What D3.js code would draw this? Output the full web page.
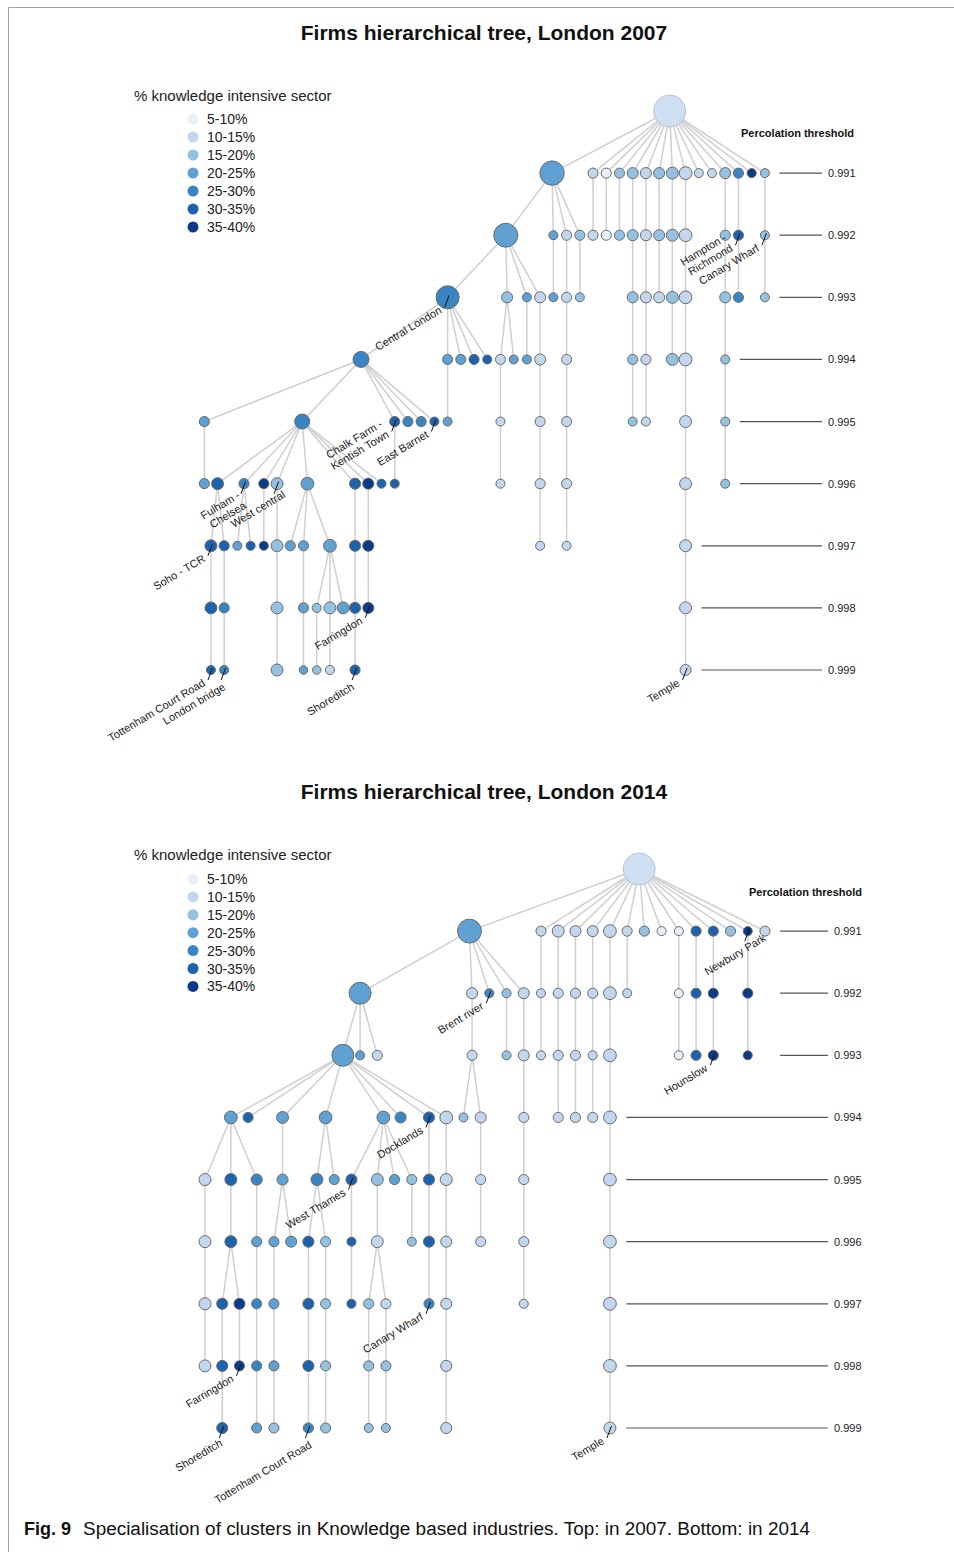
<!DOCTYPE html>
<html><head><meta charset="utf-8">
<script src="https://cdn.jsdelivr.net/npm/d3@7"></script>
<style>body{margin:0;background:#fff}svg{display:block}</style>
</head><body>
<svg id="c" width="954" height="1552"></svg>
<script>
// ---------------- DATA ----------------
const thresholds = [0.991, 0.992, 0.993, 0.994, 0.995, 0.996, 0.997, 0.998, 0.999];
const classLabels = ["5-10%", "10-15%", "15-20%", "20-25%", "25-30%", "30-35%", "35-40%"];
const classColors = ["#e7eff9", "#c2d7ee", "#93c1e1", "#5fa1d2", "#3985c3", "#1d62ad", "#0b3a86"];
const titles = ["Firms hierarchical tree, London 2007", "Firms hierarchical tree, London 2014"];
const legendTitle = "% knowledge intensive sector";
const thresholdTitle = "Percolation threshold";
const captionBold = "Fig. 9";
const captionText = "Specialisation of clusters in Knowledge based industries. Top: in 2007. Bottom: in 2014";

// nodes: [threshold, slot (ordinal position in tree row), parent slot, knowledge class 1-7, cluster size]
const nodes2007 = [
  [0.990, 35.8, null, 2, 100],
  [0.991, 26.9, 35.8, 4, 58], [0.991, 30, 35.8, 2, 10], [0.991, 31, 35.8, 1, 10], [0.991, 32, 35.8, 3, 10],
  [0.991, 33, 35.8, 3, 12], [0.991, 34, 35.8, 2, 12], [0.991, 35, 35.8, 3, 12], [0.991, 36, 35.8, 3, 14],
  [0.991, 37, 35.8, 2, 16], [0.991, 38, 35.8, 2, 8], [0.991, 39, 35.8, 2, 8], [0.991, 40, 35.8, 3, 12],
  [0.991, 41, 35.8, 5, 10], [0.991, 42, 35.8, 7, 8], [0.991, 43, 35.8, 3, 8],
  [0.992, 23.4, 26.9, 4, 56], [0.992, 27, 26.9, 4, 8], [0.992, 28, 26.9, 2, 10], [0.992, 29, 26.9, 3, 10],
  [0.992, 30, 30, 2, 10], [0.992, 31, 31, 1, 10], [0.992, 32, 32, 3, 10], [0.992, 33, 33, 3, 12],
  [0.992, 34, 34, 2, 12], [0.992, 35, 35, 3, 12], [0.992, 36, 36, 3, 14], [0.992, 37, 37, 2, 16],
  [0.992, 40, 40, 3, 10], [0.992, 41, 41, 6, 10], [0.992, 43, 43, 3, 8],
  [0.993, 19, 23.4, 5, 52], [0.993, 23.5, 23.4, 3, 12], [0.993, 25, 23.4, 4, 8], [0.993, 26, 23.4, 2, 12],
  [0.993, 27, 27, 4, 8], [0.993, 28, 28, 2, 10], [0.993, 29, 29, 3, 8],
  [0.993, 33, 33, 3, 12], [0.993, 34, 34, 2, 12], [0.993, 35, 35, 2, 12], [0.993, 36, 36, 3, 14],
  [0.993, 37, 37, 2, 16], [0.993, 40, 40, 3, 12], [0.993, 41, 41, 5, 10], [0.993, 43, 43, 3, 8],
  [0.994, 12.45, 19, 5, 25], [0.994, 19, 19, 4, 10], [0.994, 20, 19, 4, 10], [0.994, 21, 19, 6, 10],
  [0.994, 22, 19, 6, 8], [0.994, 23, 23.5, 2, 10], [0.994, 24, 23.5, 4, 8], [0.994, 25, 25, 4, 8],
  [0.994, 26, 26, 2, 12], [0.994, 28, 28, 2, 10], [0.994, 33, 33, 3, 10], [0.994, 34, 34, 2, 10],
  [0.994, 36, 36, 3, 14], [0.994, 37, 37, 2, 16], [0.994, 40, 40, 3, 8],
  [0.995, 0.6, 12.45, 4, 10], [0.995, 8, 12.45, 5, 22], [0.995, 15, 12.45, 6, 10], [0.995, 16, 12.45, 5, 10],
  [0.995, 17, 12.45, 5, 10], [0.995, 18, 12.45, 6, 8], [0.995, 19, 19, 4, 8], [0.995, 23, 23, 2, 8],
  [0.995, 26, 26, 2, 10], [0.995, 28, 28, 2, 10], [0.995, 33, 33, 3, 8], [0.995, 34, 34, 2, 8],
  [0.995, 37, 37, 2, 14], [0.995, 40, 40, 3, 8],
  [0.996, 0.6, 0.6, 4, 10], [0.996, 1.6, 8, 6, 14], [0.996, 3.6, 8, 5, 10], [0.996, 5.1, 8, 7, 10],
  [0.996, 6.1, 8, 3, 14], [0.996, 8.4, 8, 4, 16], [0.996, 12, 8, 6, 12], [0.996, 13, 8, 7, 12],
  [0.996, 14, 8, 6, 8], [0.996, 15, 15, 6, 8], [0.996, 23, 23, 2, 8], [0.996, 26, 26, 2, 10],
  [0.996, 28, 28, 2, 10], [0.996, 37, 37, 2, 14], [0.996, 40, 40, 3, 8],
  [0.997, 1.1, 1.6, 6, 14], [0.997, 2.1, 1.6, 6, 10], [0.997, 3.1, 3.6, 4, 8], [0.997, 4.1, 3.6, 6, 8],
  [0.997, 5.1, 5.1, 7, 8], [0.997, 6.1, 6.1, 3, 14], [0.997, 7.1, 8.4, 4, 10], [0.997, 8.1, 8.4, 4, 10],
  [0.997, 10.1, 8.4, 4, 16], [0.997, 12, 12, 6, 12], [0.997, 13, 13, 7, 12], [0.997, 26, 26, 2, 8],
  [0.997, 28, 28, 2, 8], [0.997, 37, 37, 2, 14],
  [0.998, 1.1, 1.1, 6, 14], [0.998, 2.1, 2.1, 5, 10], [0.998, 6.1, 6.1, 3, 14], [0.998, 8.1, 8.1, 4, 10],
  [0.998, 9.1, 10.1, 3, 8], [0.998, 10.1, 10.1, 3, 14], [0.998, 11.1, 10.1, 4, 14], [0.998, 12, 12, 6, 12],
  [0.998, 13, 13, 7, 12], [0.998, 37, 37, 2, 14],
  [0.999, 1.1, 1.1, 6, 8], [0.999, 2.1, 2.1, 5, 8], [0.999, 6.1, 6.1, 3, 14], [0.999, 8.1, 8.1, 4, 7],
  [0.999, 9.1, 9.1, 3, 7], [0.999, 10.1, 10.1, 2, 8], [0.999, 12, 12, 6, 10], [0.999, 37, 37, 2, 12]
];

const nodes2014 = [
  [0.990, 50.4, null, 2, 100],
  [0.991, 30.7, 50.4, 4, 56], [0.991, 39, 50.4, 2, 10], [0.991, 41, 50.4, 2, 14], [0.991, 43, 50.4, 2, 12],
  [0.991, 45, 50.4, 2, 12], [0.991, 47, 50.4, 2, 16], [0.991, 49, 50.4, 2, 10], [0.991, 51, 50.4, 3, 10],
  [0.991, 53, 50.4, 1, 8], [0.991, 55, 50.4, 1, 8], [0.991, 57, 50.4, 6, 10], [0.991, 59, 50.4, 6, 10],
  [0.991, 61, 50.4, 3, 10], [0.991, 63, 50.4, 7, 8], [0.991, 65, 50.4, 2, 10],
  [0.992, 18, 30.7, 4, 47], [0.992, 31, 30.7, 2, 12], [0.992, 33, 30.7, 5, 8], [0.992, 35, 30.7, 3, 8],
  [0.992, 37, 30.7, 2, 12], [0.992, 39, 39, 2, 8], [0.992, 41, 41, 2, 10], [0.992, 43, 43, 2, 10],
  [0.992, 45, 45, 2, 10], [0.992, 47, 47, 2, 16], [0.992, 49, 49, 2, 8], [0.992, 55, 55, 1, 8],
  [0.992, 57, 57, 6, 10], [0.992, 59, 59, 7, 10], [0.992, 63, 63, 7, 10],
  [0.993, 16, 18, 4, 47], [0.993, 18, 18, 4, 8], [0.993, 20, 18, 2, 10], [0.993, 31, 31, 2, 10],
  [0.993, 35, 35, 3, 8], [0.993, 37, 37, 2, 12], [0.993, 39, 39, 2, 8], [0.993, 41, 41, 2, 10],
  [0.993, 43, 43, 2, 10], [0.993, 45, 45, 2, 8], [0.993, 47, 47, 2, 16], [0.993, 55, 55, 1, 8],
  [0.993, 57, 57, 6, 10], [0.993, 59, 59, 7, 10], [0.993, 63, 63, 7, 8],
  [0.994, 3, 16, 4, 16], [0.994, 5, 16, 6, 10], [0.994, 9, 16, 4, 14], [0.994, 14, 16, 4, 16],
  [0.994, 20.7, 16, 4, 16], [0.994, 22.7, 16, 5, 12], [0.994, 26, 16, 6, 12], [0.994, 28, 16, 2, 16],
  [0.994, 30, 31, 3, 8], [0.994, 32, 31, 2, 12], [0.994, 37, 37, 2, 10], [0.994, 41, 41, 2, 10],
  [0.994, 43, 43, 2, 10], [0.994, 45, 45, 2, 10], [0.994, 47, 47, 2, 16],
  [0.995, 0, 3, 2, 14], [0.995, 3, 3, 6, 14], [0.995, 6, 3, 5, 12], [0.995, 9, 9, 4, 12],
  [0.995, 13, 14, 5, 14], [0.995, 15, 14, 4, 10], [0.995, 17, 20.7, 6, 12], [0.995, 20, 20.7, 3, 14],
  [0.995, 22, 20.7, 4, 10], [0.995, 24, 20.7, 3, 10], [0.995, 26, 26, 6, 12], [0.995, 28, 28, 2, 14],
  [0.995, 32, 32, 2, 10], [0.995, 37, 37, 2, 10], [0.995, 47, 47, 2, 16],
  [0.996, 0, 0, 2, 14], [0.996, 3, 3, 6, 14], [0.996, 6, 6, 4, 10], [0.996, 8, 9, 4, 10],
  [0.996, 10, 9, 4, 12], [0.996, 12, 13, 6, 12], [0.996, 14, 13, 3, 10], [0.996, 17, 17, 6, 8],
  [0.996, 20, 20, 2, 14], [0.996, 24, 24, 3, 8], [0.996, 26, 26, 6, 12], [0.996, 28, 28, 2, 12],
  [0.996, 32, 32, 2, 10], [0.996, 37, 37, 2, 10], [0.996, 47, 47, 2, 16],
  [0.997, 0, 0, 2, 14], [0.997, 2, 3, 6, 12], [0.997, 4, 3, 7, 12], [0.997, 6, 6, 5, 10],
  [0.997, 8, 8, 4, 10], [0.997, 12, 12, 6, 12], [0.997, 14, 14, 3, 10], [0.997, 17, 17, 6, 8],
  [0.997, 19, 20, 3, 10], [0.997, 21, 20, 2, 10], [0.997, 26, 26, 5, 10], [0.997, 28, 28, 2, 12],
  [0.997, 37, 37, 2, 8], [0.997, 47, 47, 2, 16],
  [0.998, 0, 0, 2, 14], [0.998, 2, 2, 6, 12], [0.998, 4, 4, 7, 10], [0.998, 6, 6, 5, 10],
  [0.998, 8, 8, 4, 10], [0.998, 12, 12, 6, 12], [0.998, 14, 14, 3, 10], [0.998, 19, 19, 3, 10],
  [0.998, 21, 21, 3, 10], [0.998, 28, 28, 2, 12], [0.998, 47, 47, 2, 16],
  [0.999, 2, 2, 6, 12], [0.999, 6, 6, 4, 10], [0.999, 8, 8, 3, 10], [0.999, 12, 12, 5, 10],
  [0.999, 14, 14, 3, 10], [0.999, 19, 19, 3, 8], [0.999, 21, 21, 3, 8], [0.999, 28, 28, 2, 12],
  [0.999, 47, 47, 2, 14]
];

// labels: [threshold, slot, text lines]
const labels2007 = [
  [0.992, 41, ["Hampton -", "Richmond"]],
  [0.992, 43, ["Canary Wharf"]],
  [0.993, 19, ["Central London"]],
  [0.995, 15, ["Chalk Farm -", "Kentish Town"]],
  [0.995, 18, ["East Barnet"]],
  [0.996, 3.6, ["Fulham -", "Chelsea"]],
  [0.996, 6.1, ["West central"]],
  [0.997, 1.1, ["Soho - TCR"]],
  [0.998, 13, ["Farringdon"]],
  [0.999, 1.1, ["Tottenham Court Road"]],
  [0.999, 2.1, ["London bridge"]],
  [0.999, 12, ["Shoreditch"]],
  [0.999, 37, ["Temple"]]
];
const labels2014 = [
  [0.991, 63, ["Newbury Park"]],
  [0.992, 33, ["Brent river"]],
  [0.993, 59, ["Hounslow"]],
  [0.994, 26, ["Docklands"]],
  [0.995, 17, ["West Thames"]],
  [0.997, 26, ["Canary Wharf"]],
  [0.998, 4, ["Farringdon"]],
  [0.999, 2, ["Shoreditch"]],
  [0.999, 12, ["Tottenham Court Road"]],
  [0.999, 47, ["Temple"]]
];

// ---------------- LAYOUT ----------------
// label text nudges (annotation placement only), keyed by first line of the label
const nudge2007 = {"London bridge": [7, 4], "Shoreditch": [5, 4], "Fulham -": [8, 9], "West central": [14, -2]};
const nudge2014 = {"Newbury Park": [24, -6], "Shoreditch": [6, 2], "Tottenham Court Road": [9, 4]};

const panels = [
  {title: titles[0], nodes: nodes2007, labels: labels2007, nudge: nudge2007, titleY: 40,
   slotDomain: [0, 43], xRange: [196.4, 764.9], yRange: [111, 670],
   lineEnd: 822, percX: 741, percY: 137, legTitleY: 101, legY0: 119, legStep: 18},
  {title: titles[1], nodes: nodes2014, labels: labels2014, nudge: nudge2014, titleY: 799,
   slotDomain: [0, 65], xRange: [205, 765], yRange: [869, 1428],
   lineEnd: 828, percX: 749, percY: 896, legTitleY: 860, legY0: 879, legStep: 17.9}
];

const svg = d3.select("#c");
const FONT = "'Liberation Sans', Arial, Helvetica, sans-serif";
svg.append("path").attr("d", "M954,7.5H8.5V1552").attr("fill", "none")
  .attr("stroke", "#a0a0a0").attr("stroke-width", 1);

const color = d3.scaleOrdinal().domain(d3.range(1, 8)).range(classColors);
const radius = d3.scaleSqrt().domain([0, 100]).range([0, 16]);
const key = (t, s) => (+t).toFixed(3) + "|" + s;

panels.forEach(cfg => {
  const g = svg.append("g");
  const x = d3.scaleLinear().domain(cfg.slotDomain).range(cfg.xRange);
  const y = d3.scaleLinear().domain([0.990, 0.999]).range(cfg.yRange);
  const data = cfg.nodes.map(([t, s, p, k, n]) => ({t, s, p, k, n, x: x(s), y: y(t), r: radius(n)}));
  const byKey = new Map(data.map(d => [key(d.t, d.s), d]));
  const links = data.filter(d => d.p !== null)
    .map(d => ({source: byKey.get(key(d.t - 0.001, d.p)), target: d}))
    .filter(l => l.source);

  // title
  g.append("text").attr("x", 484).attr("y", cfg.titleY).attr("text-anchor", "middle")
    .attr("font-family", FONT).attr("font-weight", "bold").attr("font-size", 21)
    .attr("fill", "#111").text(cfg.title);

  // legend
  g.append("text").attr("x", 134).attr("y", cfg.legTitleY).attr("font-family", FONT)
    .attr("font-size", 15).attr("fill", "#222").text(legendTitle);
  const leg = g.selectAll("g.leg").data(classLabels).join("g").attr("class", "leg")
    .attr("transform", (d, i) => `translate(0,${cfg.legY0 + i * cfg.legStep})`);
  leg.append("circle").attr("cx", 193).attr("cy", 0).attr("r", 5.5)
    .attr("fill", (d, i) => color(i + 1));
  leg.append("text").attr("x", 207).attr("y", 5).attr("font-family", FONT)
    .attr("font-size", 14).attr("fill", "#222").text(d => d);

  // threshold lines
  g.append("text").attr("x", cfg.percX).attr("y", cfg.percY).attr("font-family", FONT)
    .attr("font-weight", "bold").attr("font-size", 11).attr("fill", "#111").text(thresholdTitle);
  thresholds.forEach((t, i) => {
    const bandStart = thresholds[Math.floor(i / 3) * 3];
    const maxX = d3.max(data.filter(d => d.t >= bandStart - 1e-9), d => d.x + d.r);
    g.append("line").attr("x1", maxX + 10).attr("x2", cfg.lineEnd)
      .attr("y1", y(t)).attr("y2", y(t)).attr("stroke", "#555").attr("stroke-width", 1.2);
    g.append("text").attr("x", cfg.lineEnd + 6).attr("y", y(t) + 4).attr("font-family", FONT)
      .attr("font-size", 11).attr("fill", "#222").text(t.toFixed(3));
  });

  // links
  g.append("g").selectAll("line").data(links).join("line")
    .attr("x1", d => d.source.x).attr("y1", d => d.source.y)
    .attr("x2", d => d.target.x).attr("y2", d => d.target.y)
    .attr("stroke", "#cfcfcf").attr("stroke-width", 1.5);

  // nodes
  g.append("g").selectAll("circle").data(data).join("circle")
    .attr("cx", d => d.x).attr("cy", d => d.y).attr("r", d => d.r)
    .attr("fill", d => d.p === null ? d3.interpolateRgb(color(d.k), "#fff")(0.2) : color(d.k))
    .attr("stroke", d => d.p === null ? "#b4c6d6" : "#6a6a6a")
    .attr("stroke-width", 1);

  // labels
  cfg.labels.forEach(([t, s, lines]) => {
    const d = byKey.get(key(t, s));
    if (!d) return;
    const [dx, dy] = cfg.nudge[lines[0]] || [0, 0];
    g.append("line").attr("x1", d.x + 1.5).attr("y1", d.y - 2)
      .attr("x2", d.x - 3).attr("y2", d.y + 10)
      .attr("stroke", "#111").attr("stroke-width", 1);
    const txt = g.append("text")
      .attr("transform", `translate(${d.x - 5 + dx},${d.y + 15 + dy}) rotate(-31)`)
      .attr("text-anchor", "end").attr("font-family", FONT).attr("font-size", 11).attr("fill", "#1a1a1a");
    lines.forEach((ln, j) => {
      txt.append("tspan").attr("x", 0)
        .attr("dy", j === 0 ? `${-(lines.length - 1) * 1.1}em` : "1.1em").text(ln);
    });
  });
});

// caption
svg.append("text").attr("x", 24).attr("y", 1535).attr("font-family", FONT)
  .attr("font-weight", "bold").attr("font-size", 18).attr("fill", "#111").text(captionBold);
svg.append("text").attr("x", 83).attr("y", 1535).attr("font-family", FONT)
  .attr("font-size", 18).attr("fill", "#111")
  .attr("textLength", 727).attr("lengthAdjust", "spacingAndGlyphs").text(captionText);
</script>
</body></html>
